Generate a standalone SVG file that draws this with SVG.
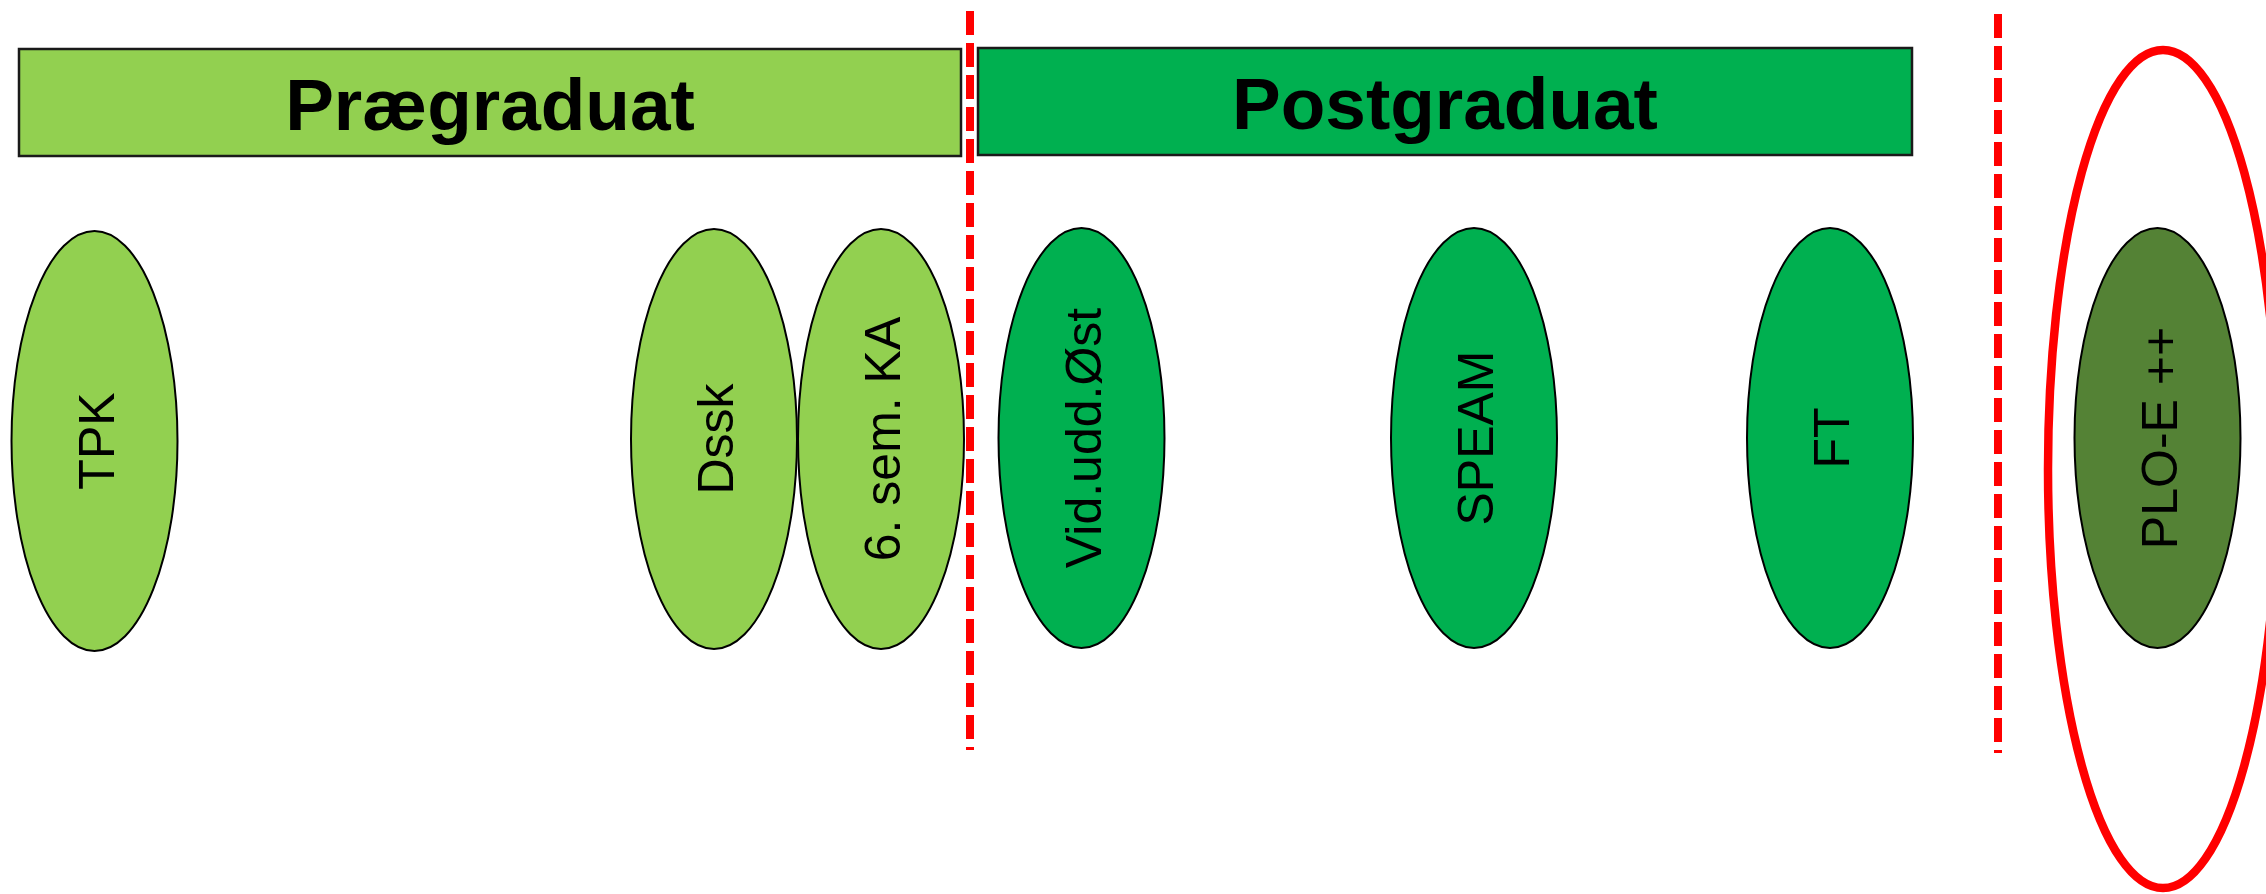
<svg xmlns="http://www.w3.org/2000/svg" width="2266" height="894" viewBox="0 0 2266 894">
  <style>
    .band { stroke: #1a1a1a; stroke-width: 2.5; }
    .pre { fill: #92D050; }
    .post { fill: #00B050; }
    .plo { fill: #548235; }
    .node { stroke: #000000; stroke-width: 2; }
    .title { font-family: "Liberation Sans", Arial, sans-serif; font-weight: bold; font-size: 73px; fill: #000000; text-anchor: middle; }
    .label { font-family: "Liberation Sans", Arial, sans-serif; font-size: 50px; fill: #000000; text-anchor: middle; }
    .divider { stroke: #FF0000; stroke-width: 8; stroke-dasharray: 24 8; fill: none; }
    .ring { stroke: #FF0000; stroke-width: 8.5; fill: none; }
  </style>

  <g id="praegraduat">
    <rect class="band pre" x="19" y="49" width="942" height="107"/>
    <text class="title" x="490" y="130">Prægraduat</text>
  </g>

  <g id="postgraduat">
    <rect class="band post" x="978" y="48" width="934" height="107"/>
    <text class="title" x="1445" y="129">Postgraduat</text>
  </g>

  <g id="dividers">
    <line class="divider" x1="970" y1="11" x2="970" y2="750"/>
    <line class="divider" x1="1998" y1="14" x2="1998" y2="753"/>
  </g>

  <g id="tpk">
    <ellipse class="node pre" cx="94.5" cy="441" rx="83" ry="210"/>
    <text class="label" transform="translate(113.5,441) rotate(-90)">TPK</text>
  </g>

  <g id="dssk">
    <ellipse class="node pre" cx="714" cy="439" rx="83" ry="210"/>
    <text class="label" transform="translate(733,439) rotate(-90)">Dssk</text>
  </g>

  <g id="sem6-ka">
    <ellipse class="node pre" cx="881" cy="439" rx="83" ry="210"/>
    <text class="label" transform="translate(900,439) rotate(-90)">6. sem. KA</text>
  </g>

  <g id="vid-udd-oest">
    <ellipse class="node post" cx="1081.5" cy="438" rx="83" ry="210"/>
    <text class="label" transform="translate(1100.5,438) rotate(-90)">Vid.udd.Øst</text>
  </g>

  <g id="speam">
    <ellipse class="node post" cx="1474" cy="438" rx="83" ry="210"/>
    <text class="label" transform="translate(1493,438) rotate(-90)">SPEAM</text>
  </g>

  <g id="ft">
    <ellipse class="node post" cx="1830" cy="438" rx="83" ry="210"/>
    <text class="label" transform="translate(1849,438) rotate(-90)">FT</text>
  </g>

  <g id="plo-e-ring">
    <ellipse class="ring" cx="2163" cy="469" rx="115" ry="419"/>
  </g>

  <g id="plo-e">
    <ellipse class="node plo" cx="2157.5" cy="438" rx="83" ry="210"/>
    <text class="label" transform="translate(2176.5,438) rotate(-90)">PLO-E ++</text>
  </g>
</svg>
